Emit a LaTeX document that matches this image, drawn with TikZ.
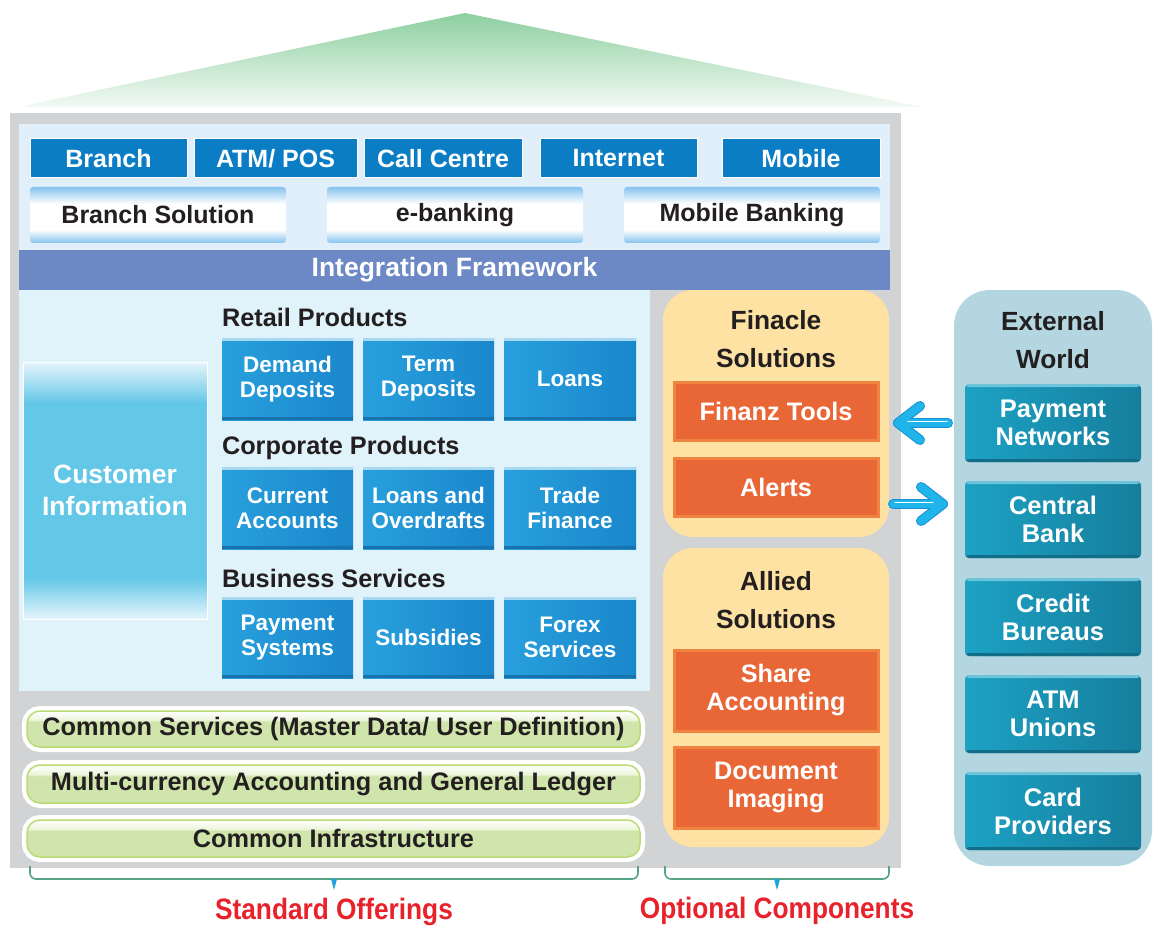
\documentclass[tikz,border=0pt]{standalone}
\usepackage{fontspec}
\setmainfont{Liberation Sans}
\newfontfamily\narrowfont[FakeStretch=0.89]{Liberation Sans}
\usetikzlibrary{arrows.meta}
\definecolor{graybg}{HTML}{D1D3D4}
\definecolor{panelA}{HTML}{E1EFFA}
\definecolor{panelB}{HTML}{E0F2FA}
\definecolor{chanblue}{HTML}{0A7DC4}
\definecolor{solb}{HTML}{86C3EE}
\definecolor{intfw}{HTML}{6D89C5}
\definecolor{prodL}{HTML}{28A0DD}
\definecolor{prodR}{HTML}{1A87CB}
\definecolor{prodtop}{HTML}{A9D8F2}
\definecolor{proddark}{HTML}{1673AE}
\definecolor{custmid}{HTML}{63C7E8}
\definecolor{custlt}{HTML}{E6F5FB}
\definecolor{yel}{HTML}{FDE2A4}
\definecolor{orng}{HTML}{E96637}
\definecolor{orngedge}{HTML}{EF8340}
\definecolor{extbg}{HTML}{B3D6E1}
\definecolor{tealL}{HTML}{1CA2C4}
\definecolor{tealR}{HTML}{167E9D}
\definecolor{tealtop}{HTML}{6CC3DA}
\definecolor{tealdark}{HTML}{126E88}
\definecolor{arrblue}{HTML}{1FB4EA}
\definecolor{arrdark}{HTML}{1690D2}
\definecolor{redlbl}{HTML}{E8212B}
\definecolor{gbar}{HTML}{D0E5AB}
\definecolor{gbarhi}{HTML}{EDF5DC}
\definecolor{gborder}{HTML}{BCDA74}
\definecolor{bracec}{HTML}{55A585}
\definecolor{tickc}{HTML}{1FA3DC}
\definecolor{txt}{HTML}{231F20}
\definecolor{roofT}{HTML}{8DCFA0}
\definecolor{roofB}{HTML}{F3FAF4}
\pgfdeclareverticalshading{solshade}{100bp}{color(0bp)=(solb); color(25bp)=(solb); color(37bp)=(white); color(60bp)=(white); color(75bp)=(solb); color(100bp)=(solb)}
\pgfdeclareverticalshading{custshade}{100bp}{color(0bp)=(custlt); color(25bp)=(custlt); color(33bp)=(custmid); color(67bp)=(custmid); color(75bp)=(custlt); color(100bp)=(custlt)}
\pgfdeclareverticalshading{gbarshade}{100bp}{color(0bp)=(gbar); color(25bp)=(gbar); color(60bp)=(gbar); color(63bp)=(gbarhi); color(75bp)=(white); color(100bp)=(white)}
\newcommand\fs[2]{\fontsize{#1}{#2}\selectfont}
\newcommand\bx[7]{%
  \pgfmathsetmacro\cx{(#3+#5)/2}\pgfmathsetmacro\cy{(#4+#6)/2}%
  \pgfmathsetmacro\ww{#5-#3}\pgfmathsetmacro\hh{#6-#4}%
  \node[#1, minimum width=\ww pt, minimum height=\hh pt] (#2) at (\cx,\cy) {#7};}
\begin{document}
\begin{tikzpicture}[x=1pt,y=-1pt,
  base/.style={inner sep=0pt, outer sep=0pt, align=center},
  chan/.style={base, fill=chanblue, draw=white, line width=1pt, text=white, font=\bfseries\fs{25}{28}},
  sol/.style={base, shade, shading=solshade, rounded corners=3pt, text=txt, font=\bfseries\fs{25}{28}},
  intf/.style={base, fill=intfw, text=white, font=\bfseries\fs{26.5}{28}},
  prod/.style={base, left color=prodL, right color=prodR, text=white, font=\bfseries\fs{22.5}{25},
    path picture={\fill[prodtop] (path picture bounding box.north west) rectangle ([yshift=-3pt]path picture bounding box.north east);
      \fill[proddark] (path picture bounding box.south west) rectangle ([yshift=3pt]path picture bounding box.south east);}},
  cust/.style={base, shade, shading=custshade, draw=white, line width=1pt, text=white, font=\bfseries\fs{26.5}{32}},
  hdr/.style={base, anchor=west, text=txt, font=\bfseries\fs{25.3}{28}},
  ttl/.style={base, text=txt, font=\bfseries\fs{26.3}{38}},
  org/.style={base, fill=orng, draw=orngedge, line width=3pt, text=white, font=\bfseries\fs{25.3}{28}},
  ext/.style={base, left color=tealL, right color=tealR, rounded corners=4pt, text=white, font=\bfseries\fs{25.5}{28},
    path picture={\fill[tealtop] (path picture bounding box.north west) rectangle ([yshift=-3pt]path picture bounding box.north east);
      \fill[tealdark] (path picture bounding box.south west) rectangle ([yshift=3pt]path picture bounding box.south east);}},
  bar/.style={base, shade, shading=gbarshade, draw=gborder, line width=1.5pt, rounded corners=13pt,
    preaction={draw=white, line width=10pt}, text=txt, font=\bfseries\fs{25.3}{28}},
  lbl/.style={base, text=redlbl, font=\narrowfont\bfseries\fs{29.5}{32}},
  arrout/.style={draw=arrdark, line width=10pt, line cap=round, -{Straight Barb[length=22pt,width=34pt,round]}},
  arrin/.style={draw=arrblue, line width=8pt, line cap=round, -{Straight Barb[length=22pt,width=34pt,round]}},
  arrhi/.style={draw=white, line width=1.4pt, line cap=round},
  bracesty/.style={draw=bracec, line width=1.6pt, rounded corners=6pt},
]
\useasboundingbox (0,0) rectangle (1153,933);
\fill[white] (0,0) rectangle (1153,933);
% roof
\shade[top color=roofT, bottom color=roofB] (18,107) -- (465,13) -- (922,107) -- cycle;
% main body
\fill[graybg] (10,113) rectangle (901,868);
\fill[panelA] (19,124) rectangle (890,250);
\fill[panelB] (19,290) rectangle (650,691);
% channels
\bx{chan}{ch1}{30}{139}{187}{178}{Branch}
\bx{chan}{ch2}{194}{139}{357}{178}{ATM/ POS}
\bx{chan}{ch3}{364}{139}{522}{178}{Call Centre}
\bx{chan}{ch4}{540}{139}{697}{178}{Internet}
\bx{chan}{ch5}{722}{139}{880}{178}{Mobile}
% solutions
\bx{sol}{s1}{30}{187}{286}{243}{Branch Solution}
\bx{sol}{s2}{327}{187}{583}{243}{e-banking}
\bx{sol}{s3}{624}{187}{880}{243}{Mobile Banking}
% integration
\bx{intf}{intf}{19}{250}{890}{290}{Integration Framework}
% customer information
\bx{cust}{cust}{23}{362}{207}{619}{Customer\\Information}
% products
\node[hdr] (rp) at (222,317) {Retail Products};
\bx{prod}{p11}{222}{338}{353}{420}{Demand\\Deposits}
\bx{prod}{p12}{363}{338}{494}{420}{Term\\Deposits}
\bx{prod}{p13}{504}{338}{636}{420}{Loans}
\node[hdr] (cp) at (222,448) {Corporate Products};
\bx{prod}{p21}{222}{467}{353}{549}{Current\\Accounts}
\bx{prod}{p22}{363}{467}{494}{549}{Loans and\\Overdrafts}
\bx{prod}{p23}{504}{467}{636}{549}{Trade\\Finance}
\node[hdr] (bs) at (222,578) {Business Services};
\bx{prod}{p31}{222}{597}{353}{678}{Payment\\Systems}
\bx{prod}{p32}{363}{597}{494}{678}{Subsidies}
\bx{prod}{p33}{504}{597}{636}{678}{Forex\\Services}
% common bars
\bx{bar}{b1}{27}{711}{640}{747}{Common Services (Master Data/ User Definition)}
\bx{bar}{b2}{27}{765}{640}{803}{Multi-currency Accounting and General Ledger}
\bx{bar}{b3}{27}{820}{640}{857}{Common Infrastructure}
% finacle solutions
\fill[yel, rounded corners=30pt] (663,290) rectangle (889,537);
\node[ttl] (fin) at (776,339) {Finacle\\Solutions};
\bx{org}{ft}{674}{382}{878}{440}{Finanz Tools}
\bx{org}{al}{674}{458}{878}{516}{Alerts}
% allied solutions
\fill[yel, rounded corners=30pt] (663,548) rectangle (889,847);
\node[ttl] (all) at (776,600) {Allied\\Solutions};
\bx{org}{sa}{674}{650}{878}{731}{Share\\Accounting}
\bx{org}{di}{674}{747}{878}{828}{Document\\Imaging}
% external world
\fill[extbg, rounded corners=36pt] (954,290) rectangle (1152,866);
\node[ttl] (ew) at (1053,340) {External\\World};
\bx{ext}{pn}{965}{384}{1141}{462}{Payment\\Networks}
\bx{ext}{cb}{965}{481}{1141}{558}{Central\\Bank}
\bx{ext}{cr}{965}{578}{1141}{656}{Credit\\Bureaus}
\bx{ext}{au}{965}{675}{1141}{753}{ATM\\Unions}
\bx{ext}{cpr}{965}{772}{1141}{850}{Card\\Providers}
% arrows
\draw[arrout, shorten <=17pt, shorten >=15pt] (pn.west) -- (pn.west -| ft.east);
\draw[arrin, shorten <=17pt, shorten >=16pt] (pn.west) -- (pn.west -| ft.east);
\draw[arrhi, shorten <=18pt, shorten >=30pt] ([yshift=1.5pt]pn.west) -- ([yshift=1.5pt]pn.west -| ft.east);
\draw[arrout, shorten <=15pt, shorten >=17pt] ([yshift=-17pt]al.east) -- ([yshift=-17pt]al.east -| cb.west);
\draw[arrin, shorten <=15pt, shorten >=18pt] ([yshift=-17pt]al.east) -- ([yshift=-17pt]al.east -| cb.west);
\draw[arrhi, shorten <=17pt, shorten >=32pt] ([yshift=-15.5pt]al.east) -- ([yshift=-15.5pt]al.east -| cb.west);
% braces
\draw[bracesty] (30,866) -- (30,879) -- (638,879) -- (638,866);
\fill[tickc] (331,879) -- (337,879) -- (334,890) -- cycle;
\draw[bracesty] (665,866) -- (665,879) -- (889,879) -- (889,866);
\fill[tickc] (774,879) -- (780,879) -- (777,890) -- cycle;
\node[lbl] (so) at (334,912) {Standard Offerings};
\node[lbl] (oc) at (777,911) {Optional Components};
\end{tikzpicture}
\end{document}
